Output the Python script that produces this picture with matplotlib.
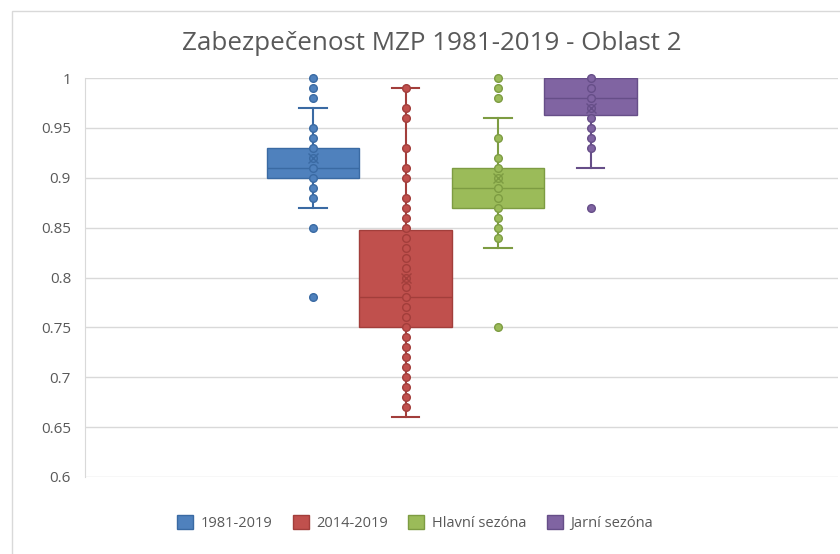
import matplotlib.pyplot as plt
import matplotlib.patches as mpatches
import matplotlib.ticker as mticker

plt.rcParams['font.family'] = ['Open Sans', 'DejaVu Sans']

labels = ["1981-2019", "2014-2019", "Hlavní sezóna", "Jarní sezóna"]
q1 = [0.90, 0.75, 0.87, 0.9625]
med = [0.91, 0.78, 0.89, 0.98]
q3 = [0.93, 0.8475, 0.91, 1.0]
whislo = [0.87, 0.66, 0.83, 0.91]
whishi = [0.97, 0.99, 0.96, 1.0]
means = [0.92, 0.80, 0.90, 0.97]

pts_1981 = [1.0, 0.99, 0.98, 0.95, 0.94, 0.93, 0.92, 0.91, 0.90, 0.89, 0.88, 0.85, 0.78]
pts_2014 = [0.99, 0.97, 0.96, 0.93, 0.91, 0.90, 0.88, 0.87, 0.86, 0.85, 0.84, 0.83,
            0.82, 0.81, 0.80, 0.79, 0.78, 0.77, 0.76, 0.75, 0.74, 0.73, 0.72, 0.71,
            0.70, 0.69, 0.68, 0.67]
pts_hlavni = [1.0, 0.99, 0.98, 0.94, 0.92, 0.91, 0.90, 0.89, 0.88, 0.87, 0.86, 0.85, 0.84, 0.75]
pts_jarni = [1.0, 0.99, 0.98, 0.97, 0.96, 0.95, 0.94, 0.93, 0.87]
points = [pts_1981, pts_2014, pts_hlavni, pts_jarni]

fills = ["#4F81BD", "#C0504D", "#9BBB59", "#8064A2"]
edges = ["#3A6AA3", "#A23E3B", "#7D9C42", "#664E88"]

fig = plt.figure(figsize=(8.4, 5.54), dpi=100)
ax = fig.add_axes([85 / 840, 1 - 477 / 554, (838 - 85) / 840, (477 - 78) / 554])

# chart area border (runs off the right/bottom edge in the reference)
fig.patches.append(mpatches.Rectangle((12 / 840, -0.1), 1.2, 1 - 11 / 554 + 0.1,
                                      transform=fig.transFigure, fill=False,
                                      edgecolor="#D9D9D9", linewidth=1))

stats = []
for i in range(len(labels)):
    stats.append({"q1": q1[i], "med": med[i], "q3": q3[i], "whislo": whislo[i],
                  "whishi": whishi[i], "mean": means[i], "label": labels[i]})

positions = [1, 2, 3, 4]
bp = ax.bxp(stats, positions=positions, widths=1.0, patch_artist=True,
            showmeans=True, showfliers=False, capwidths=0.3)

for i in range(len(labels)):
    bp["boxes"][i].set_facecolor(fills[i])
    bp["boxes"][i].set_edgecolor(edges[i])
    bp["boxes"][i].set_linewidth(1)
    bp["boxes"][i].set_zorder(2)
    bp["medians"][i].set_color(edges[i])
    bp["medians"][i].set_linewidth(1)
    bp["means"][i].set_marker("x")
    bp["means"][i].set_markeredgecolor(edges[i])
    bp["means"][i].set_markersize(7)
    bp["means"][i].set_zorder(4)
    for j in (2 * i, 2 * i + 1):
        bp["whiskers"][j].set_color(edges[i])
        bp["whiskers"][j].set_linewidth(1.5)
        bp["whiskers"][j].set_zorder(1.5)
        bp["caps"][j].set_color(edges[i])
        bp["caps"][j].set_linewidth(1.5)
    ax.plot([positions[i]] * len(points[i]), points[i], "o", color=fills[i],
            markeredgecolor=edges[i], markersize=5.5, zorder=3, clip_on=False)

ax.set_xlim(1 - (313 - 85) / 92.5, 1 + (838 - 313) / 92.5)
ax.set_ylim(0.6, 1.0)
ax.yaxis.set_major_locator(mticker.MultipleLocator(0.05))
ax.yaxis.set_major_formatter(mticker.FuncFormatter(lambda v, p: f"{v:g}"))
ax.set_xticks([])
ax.tick_params(axis="y", length=0, labelsize=11, labelcolor="#595959", pad=10)
ax.grid(axis="y", color="#D9D9D9", linewidth=1)
ax.set_axisbelow(True)
for s in ("top", "right", "bottom"):
    ax.spines[s].set_visible(False)
ax.spines["left"].set_color("#D9D9D9")

fig.text(432 / 840, 1 - 43 / 554, "Zabezpečenost MZP 1981-2019 - Oblast 2",
         ha="center", va="center", fontsize=18.7, color="#595959")

handles = [mpatches.Patch(facecolor=fills[i], edgecolor=edges[i], label=labels[i])
           for i in range(len(labels))]
fig.legend(handles=handles, loc="center", bbox_to_anchor=(415 / 840, 1 - 523 / 554),
           ncol=4, frameon=False, fontsize=10.5, labelcolor="#595959",
           handlelength=1.1, handleheight=1.1, handletextpad=0.5, columnspacing=1.4)

fig.savefig("out.png", dpi=100)
